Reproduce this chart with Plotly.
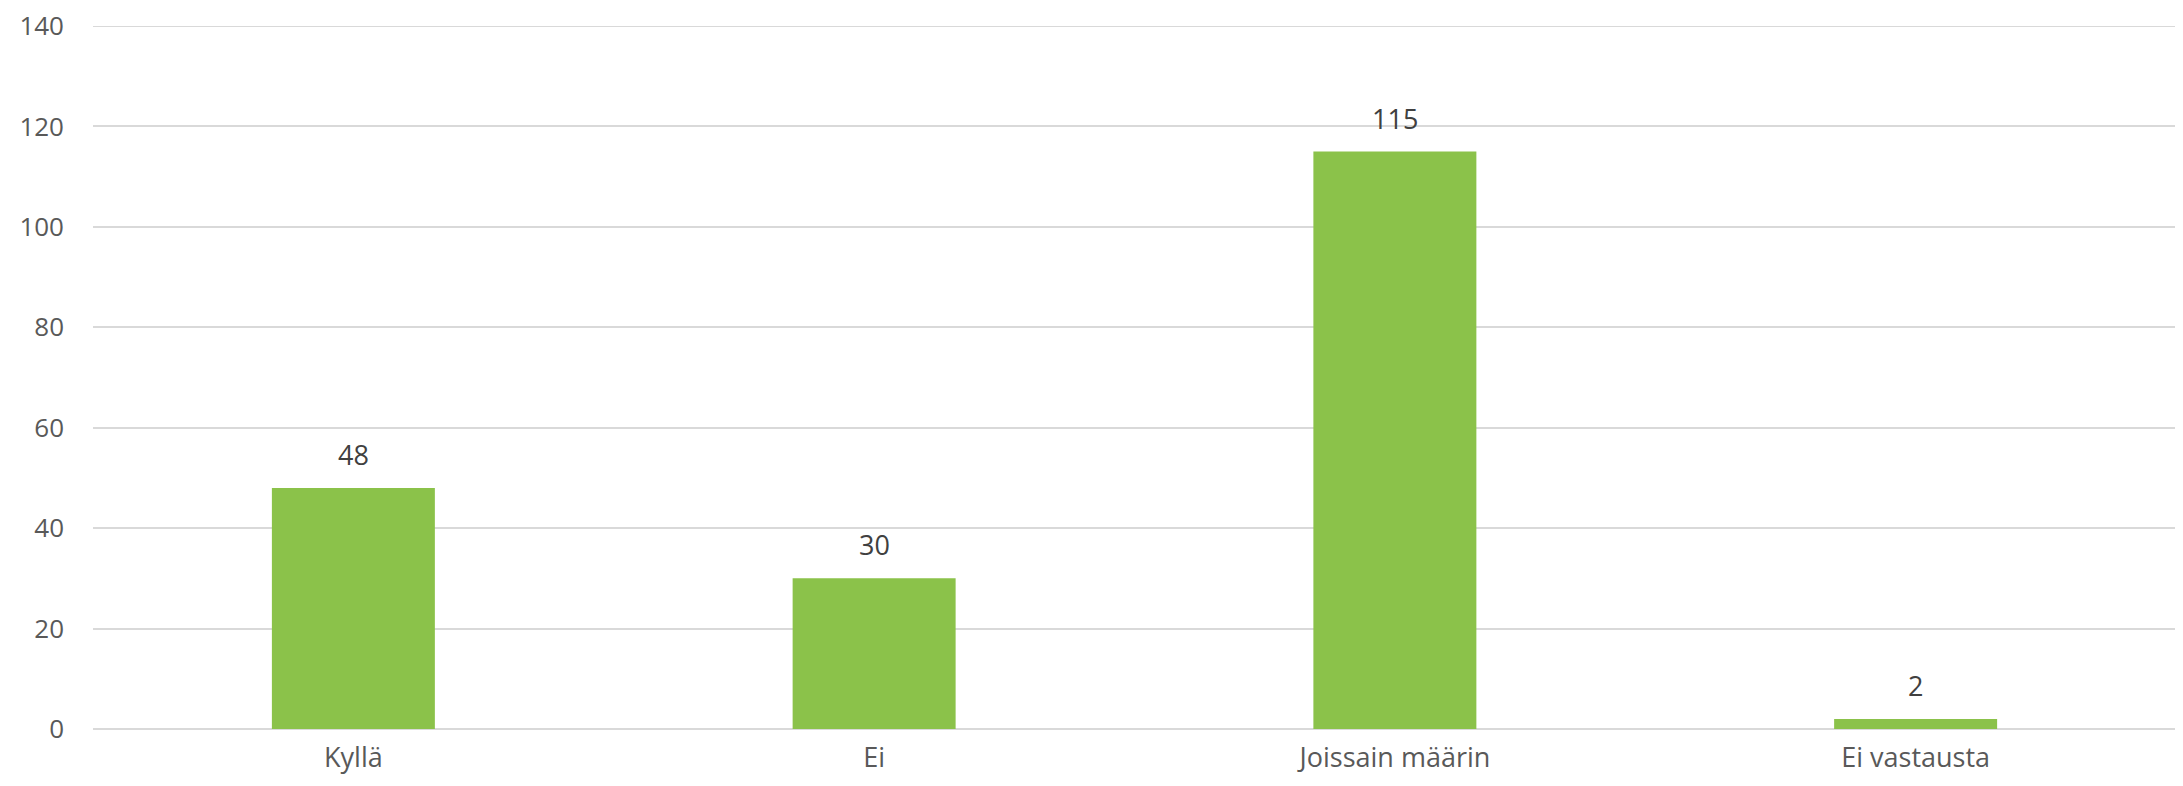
import plotly.graph_objects as go

categories = ["Kyllä", "Ei", "Joissain määrin", "Ei vastausta"]
values = [48, 30, 115, 2]
y_ticks = [0, 20, 40, 60, 80, 100, 120, 140]

FONT = "Open Sans"
GRID = "#D9D9D9"

fig = go.Figure()
fig.add_trace(go.Bar(
    x=categories, y=values,
    marker=dict(color="#8BC24A", line=dict(width=0)),
    hoverinfo="skip",
))
for c, v in zip(categories, values):
    fig.add_annotation(x=c, y=v, text=str(v), showarrow=False,
                       yanchor="bottom", yshift=13,
                       font=dict(family=FONT, size=27, color="#404040"))

# top gridline (plotly omits a gridline exactly at the range edge)
fig.add_shape(type="line", xref="paper", yref="y", x0=0, x1=1,
              y0=y_ticks[-1], y1=y_ticks[-1], line=dict(color=GRID, width=2),
              layer="below")

# page body has an 8px default margin, so the figure is offset by 8px
fig.update_layout(
    width=2175, height=778,
    margin=dict(l=85, r=7, t=18, b=57),
    paper_bgcolor="white", plot_bgcolor="white",
    bargap=0.687, showlegend=False,
    font=dict(family=FONT, size=27, color="#595959"),
)
fig.update_xaxes(showgrid=False, showline=False, zeroline=False,
                 ticks="", ticklabelstandoff=10, automargin=False,
                 tickfont=dict(family=FONT, size=27, color="#595959"))
fig.update_yaxes(range=[0, 140], tickvals=y_ticks, showgrid=True,
                 gridcolor=GRID, gridwidth=2, zeroline=True,
                 zerolinecolor=GRID, zerolinewidth=2, showline=False,
                 ticks="", ticklabelstandoff=28, automargin=False,
                 ticklabeloverflow="allow",
                 tickfont=dict(family=FONT, size=26, color="#595959"))

fig.write_html("out.html")
